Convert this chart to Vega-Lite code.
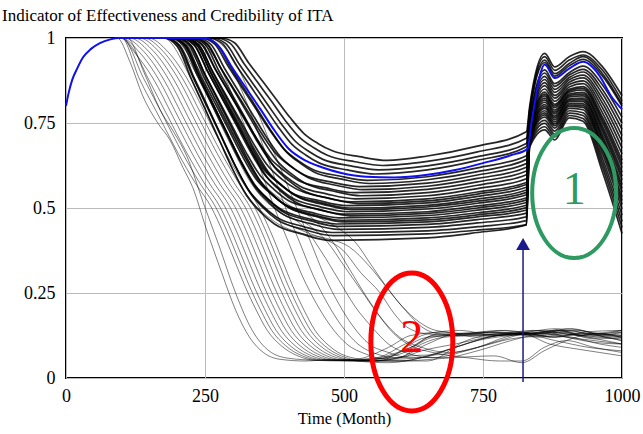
{
"$schema":"https://vega.github.io/schema/vega-lite/v6.json",
"width":556,"height":340,
"autosize":{"type":"none"},
"padding":{"left":66,"top":38,"right":21,"bottom":56},
"title":{"text":"Indicator of Effectiveness and Credibility of ITA","anchor":"start","frame":"group","dx":-64,"offset":4,"font":"Liberation Serif","fontSize":17,"fontWeight":"normal","color":"black"},
"config":{"font":"Liberation Serif","view":{"stroke":"black","strokeWidth":2},
"axis":{"labelFont":"Liberation Serif","labelFontSize":18,"labelColor":"black","titleFont":"Liberation Serif","titleFontSize":16.5,"titleFontWeight":"normal","titleColor":"black","gridColor":"#bbbbbb","gridWidth":1,"ticks":false,"domain":false,"labelFlush":false}},
"datasets":{
"bundle":[
{"s":"T1","t":85,"v":1},{"s":"T1","t":278,"v":1},{"s":"T1","t":303,"v":0.986},{"s":"T1","t":328,"v":0.928},{"s":"T1","t":353,"v":0.874},{"s":"T1","t":378,"v":0.82},{"s":"T1","t":403,"v":0.766},{"s":"T1","t":428,"v":0.719},{"s":"T1","t":453,"v":0.69},{"s":"T1","t":478,"v":0.669},{"s":"T1","t":528,"v":0.651},{"s":"T1","t":578,"v":0.64},{"s":"T1","t":650,"v":0.653},{"s":"T1","t":740,"v":0.682},{"s":"T1","t":828,"v":0.724},{"s":"T1","t":834,"v":0.8},{"s":"T1","t":861,"v":0.955},{"s":"T1","t":879,"v":0.915},{"s":"T1","t":905,"v":0.945},{"s":"T1","t":930,"v":0.96},{"s":"T1","t":965,"v":0.915},{"s":"T1","t":1000,"v":0.83},
{"s":"T2","t":85,"v":1},{"s":"T2","t":270,"v":1},{"s":"T2","t":295,"v":0.985},{"s":"T2","t":320,"v":0.925},{"s":"T2","t":345,"v":0.869},{"s":"T2","t":370,"v":0.813},{"s":"T2","t":395,"v":0.756},{"s":"T2","t":420,"v":0.708},{"s":"T2","t":445,"v":0.678},{"s":"T2","t":470,"v":0.655},{"s":"T2","t":520,"v":0.636},{"s":"T2","t":570,"v":0.625},{"s":"T2","t":650,"v":0.637},{"s":"T2","t":740,"v":0.665},{"s":"T2","t":828,"v":0.705},{"s":"T2","t":834,"v":0.79},{"s":"T2","t":861,"v":0.945},{"s":"T2","t":879,"v":0.905},{"s":"T2","t":905,"v":0.935},{"s":"T2","t":930,"v":0.95},{"s":"T2","t":965,"v":0.905},{"s":"T2","t":1000,"v":0.815},
{"s":"T3","t":85,"v":1},{"s":"T3","t":262,"v":1},{"s":"T3","t":287,"v":0.984},{"s":"T3","t":312,"v":0.922},{"s":"T3","t":337,"v":0.864},{"s":"T3","t":362,"v":0.806},{"s":"T3","t":387,"v":0.748},{"s":"T3","t":412,"v":0.697},{"s":"T3","t":437,"v":0.666},{"s":"T3","t":462,"v":0.643},{"s":"T3","t":512,"v":0.624},{"s":"T3","t":562,"v":0.612},{"s":"T3","t":650,"v":0.624},{"s":"T3","t":740,"v":0.651},{"s":"T3","t":828,"v":0.69},{"s":"T3","t":834,"v":0.785},{"s":"T3","t":861,"v":0.935},{"s":"T3","t":879,"v":0.895},{"s":"T3","t":905,"v":0.925},{"s":"T3","t":930,"v":0.945},{"s":"T3","t":965,"v":0.895},{"s":"T3","t":1000,"v":0.805},
{"s":"T4","t":85,"v":1},{"s":"T4","t":256,"v":1},{"s":"T4","t":281,"v":0.984},{"s":"T4","t":306,"v":0.92},{"s":"T4","t":331,"v":0.86},{"s":"T4","t":356,"v":0.8},{"s":"T4","t":381,"v":0.74},{"s":"T4","t":406,"v":0.688},{"s":"T4","t":431,"v":0.656},{"s":"T4","t":456,"v":0.632},{"s":"T4","t":506,"v":0.612},{"s":"T4","t":556,"v":0.6},{"s":"T4","t":650,"v":0.612},{"s":"T4","t":740,"v":0.64},{"s":"T4","t":828,"v":0.68},{"s":"T4","t":834,"v":0.775},{"s":"T4","t":861,"v":0.928},{"s":"T4","t":879,"v":0.888},{"s":"T4","t":905,"v":0.918},{"s":"T4","t":930,"v":0.937},{"s":"T4","t":965,"v":0.888},{"s":"T4","t":1000,"v":0.8},
{"s":"B1","t":85,"v":1},{"s":"B1","t":242,"v":1},{"s":"B1","t":267,"v":0.983},{"s":"B1","t":292,"v":0.916},{"s":"B1","t":317,"v":0.853},{"s":"B1","t":342,"v":0.79},{"s":"B1","t":367,"v":0.728},{"s":"B1","t":392,"v":0.673},{"s":"B1","t":417,"v":0.64},{"s":"B1","t":442,"v":0.615},{"s":"B1","t":492,"v":0.594},{"s":"B1","t":542,"v":0.581},{"s":"B1","t":650,"v":0.592},{"s":"B1","t":740,"v":0.618},{"s":"B1","t":828,"v":0.654},{"s":"B1","t":834,"v":0.756},{"s":"B1","t":861,"v":0.906},{"s":"B1","t":879,"v":0.866},{"s":"B1","t":905,"v":0.898},{"s":"B1","t":930,"v":0.917},{"s":"B1","t":965,"v":0.862},{"s":"B1","t":1000,"v":0.767},
{"s":"B2","t":85,"v":1},{"s":"B2","t":246,"v":1},{"s":"B2","t":271,"v":0.983},{"s":"B2","t":296,"v":0.914},{"s":"B2","t":321,"v":0.85},{"s":"B2","t":346,"v":0.786},{"s":"B2","t":371,"v":0.722},{"s":"B2","t":396,"v":0.666},{"s":"B2","t":421,"v":0.632},{"s":"B2","t":446,"v":0.606},{"s":"B2","t":496,"v":0.585},{"s":"B2","t":546,"v":0.572},{"s":"B2","t":650,"v":0.583},{"s":"B2","t":740,"v":0.607},{"s":"B2","t":828,"v":0.643},{"s":"B2","t":834,"v":0.752},{"s":"B2","t":861,"v":0.897},{"s":"B2","t":879,"v":0.858},{"s":"B2","t":905,"v":0.891},{"s":"B2","t":930,"v":0.908},{"s":"B2","t":965,"v":0.848},{"s":"B2","t":1000,"v":0.749},
{"s":"B3","t":85,"v":1},{"s":"B3","t":228,"v":1},{"s":"B3","t":253,"v":0.983},{"s":"B3","t":278,"v":0.913},{"s":"B3","t":303,"v":0.847},{"s":"B3","t":328,"v":0.782},{"s":"B3","t":353,"v":0.716},{"s":"B3","t":378,"v":0.659},{"s":"B3","t":403,"v":0.624},{"s":"B3","t":428,"v":0.598},{"s":"B3","t":478,"v":0.576},{"s":"B3","t":528,"v":0.563},{"s":"B3","t":650,"v":0.573},{"s":"B3","t":740,"v":0.597},{"s":"B3","t":828,"v":0.631},{"s":"B3","t":834,"v":0.748},{"s":"B3","t":861,"v":0.887},{"s":"B3","t":879,"v":0.849},{"s":"B3","t":905,"v":0.884},{"s":"B3","t":930,"v":0.9},{"s":"B3","t":965,"v":0.835},{"s":"B3","t":1000,"v":0.731},
{"s":"B4","t":85,"v":1},{"s":"B4","t":235,"v":1},{"s":"B4","t":260,"v":0.982},{"s":"B4","t":285,"v":0.911},{"s":"B4","t":310,"v":0.844},{"s":"B4","t":335,"v":0.777},{"s":"B4","t":360,"v":0.71},{"s":"B4","t":385,"v":0.652},{"s":"B4","t":410,"v":0.616},{"s":"B4","t":435,"v":0.59},{"s":"B4","t":485,"v":0.567},{"s":"B4","t":535,"v":0.554},{"s":"B4","t":650,"v":0.564},{"s":"B4","t":740,"v":0.587},{"s":"B4","t":828,"v":0.62},{"s":"B4","t":834,"v":0.744},{"s":"B4","t":861,"v":0.878},{"s":"B4","t":879,"v":0.84},{"s":"B4","t":905,"v":0.877},{"s":"B4","t":930,"v":0.891},{"s":"B4","t":965,"v":0.821},{"s":"B4","t":1000,"v":0.713},
{"s":"B5","t":85,"v":1},{"s":"B5","t":218,"v":1},{"s":"B5","t":243,"v":0.982},{"s":"B5","t":268,"v":0.909},{"s":"B5","t":293,"v":0.841},{"s":"B5","t":318,"v":0.773},{"s":"B5","t":343,"v":0.704},{"s":"B5","t":368,"v":0.645},{"s":"B5","t":393,"v":0.609},{"s":"B5","t":418,"v":0.581},{"s":"B5","t":468,"v":0.559},{"s":"B5","t":518,"v":0.545},{"s":"B5","t":650,"v":0.555},{"s":"B5","t":740,"v":0.577},{"s":"B5","t":828,"v":0.609},{"s":"B5","t":834,"v":0.74},{"s":"B5","t":861,"v":0.869},{"s":"B5","t":879,"v":0.831},{"s":"B5","t":905,"v":0.87},{"s":"B5","t":930,"v":0.883},{"s":"B5","t":965,"v":0.808},{"s":"B5","t":1000,"v":0.695},
{"s":"B6","t":85,"v":1},{"s":"B6","t":230,"v":1},{"s":"B6","t":255,"v":0.981},{"s":"B6","t":280,"v":0.907},{"s":"B6","t":305,"v":0.838},{"s":"B6","t":330,"v":0.768},{"s":"B6","t":355,"v":0.698},{"s":"B6","t":380,"v":0.638},{"s":"B6","t":405,"v":0.601},{"s":"B6","t":430,"v":0.573},{"s":"B6","t":480,"v":0.55},{"s":"B6","t":530,"v":0.536},{"s":"B6","t":650,"v":0.545},{"s":"B6","t":740,"v":0.567},{"s":"B6","t":828,"v":0.598},{"s":"B6","t":834,"v":0.736},{"s":"B6","t":861,"v":0.86},{"s":"B6","t":879,"v":0.823},{"s":"B6","t":905,"v":0.863},{"s":"B6","t":930,"v":0.874},{"s":"B6","t":965,"v":0.794},{"s":"B6","t":1000,"v":0.677},
{"s":"B7","t":85,"v":1},{"s":"B7","t":220,"v":1},{"s":"B7","t":245,"v":0.981},{"s":"B7","t":270,"v":0.905},{"s":"B7","t":295,"v":0.834},{"s":"B7","t":320,"v":0.764},{"s":"B7","t":345,"v":0.693},{"s":"B7","t":370,"v":0.631},{"s":"B7","t":395,"v":0.593},{"s":"B7","t":420,"v":0.565},{"s":"B7","t":470,"v":0.541},{"s":"B7","t":520,"v":0.527},{"s":"B7","t":650,"v":0.536},{"s":"B7","t":740,"v":0.557},{"s":"B7","t":828,"v":0.586},{"s":"B7","t":834,"v":0.732},{"s":"B7","t":861,"v":0.85},{"s":"B7","t":879,"v":0.814},{"s":"B7","t":905,"v":0.856},{"s":"B7","t":930,"v":0.866},{"s":"B7","t":965,"v":0.78},{"s":"B7","t":1000,"v":0.659},
{"s":"B8","t":85,"v":1},{"s":"B8","t":213,"v":1},{"s":"B8","t":238,"v":0.981},{"s":"B8","t":263,"v":0.904},{"s":"B8","t":288,"v":0.831},{"s":"B8","t":313,"v":0.759},{"s":"B8","t":338,"v":0.687},{"s":"B8","t":363,"v":0.624},{"s":"B8","t":388,"v":0.585},{"s":"B8","t":413,"v":0.557},{"s":"B8","t":463,"v":0.532},{"s":"B8","t":513,"v":0.518},{"s":"B8","t":650,"v":0.527},{"s":"B8","t":740,"v":0.547},{"s":"B8","t":828,"v":0.575},{"s":"B8","t":834,"v":0.728},{"s":"B8","t":861,"v":0.841},{"s":"B8","t":879,"v":0.805},{"s":"B8","t":905,"v":0.849},{"s":"B8","t":930,"v":0.857},{"s":"B8","t":965,"v":0.767},{"s":"B8","t":1000,"v":0.641},
{"s":"B9","t":85,"v":1},{"s":"B9","t":225,"v":1},{"s":"B9","t":250,"v":0.981},{"s":"B9","t":275,"v":0.903},{"s":"B9","t":300,"v":0.83},{"s":"B9","t":325,"v":0.757},{"s":"B9","t":350,"v":0.683},{"s":"B9","t":375,"v":0.62},{"s":"B9","t":400,"v":0.581},{"s":"B9","t":425,"v":0.552},{"s":"B9","t":475,"v":0.528},{"s":"B9","t":525,"v":0.513},{"s":"B9","t":650,"v":0.521},{"s":"B9","t":740,"v":0.541},{"s":"B9","t":828,"v":0.569},{"s":"B9","t":834,"v":0.726},{"s":"B9","t":861,"v":0.835},{"s":"B9","t":879,"v":0.8},{"s":"B9","t":905,"v":0.845},{"s":"B9","t":930,"v":0.852},{"s":"B9","t":965,"v":0.759},{"s":"B9","t":1000,"v":0.63},
{"s":"B10","t":85,"v":1},{"s":"B10","t":205,"v":1},{"s":"B10","t":230,"v":0.98},{"s":"B10","t":255,"v":0.901},{"s":"B10","t":280,"v":0.827},{"s":"B10","t":305,"v":0.754},{"s":"B10","t":330,"v":0.68},{"s":"B10","t":355,"v":0.615},{"s":"B10","t":380,"v":0.576},{"s":"B10","t":405,"v":0.546},{"s":"B10","t":455,"v":0.522},{"s":"B10","t":505,"v":0.507},{"s":"B10","t":650,"v":0.515},{"s":"B10","t":740,"v":0.534},{"s":"B10","t":828,"v":0.561},{"s":"B10","t":834,"v":0.723},{"s":"B10","t":861,"v":0.83},{"s":"B10","t":879,"v":0.795},{"s":"B10","t":905,"v":0.841},{"s":"B10","t":930,"v":0.847},{"s":"B10","t":965,"v":0.751},{"s":"B10","t":1000,"v":0.619},
{"s":"B11","t":85,"v":1},{"s":"B11","t":210,"v":1},{"s":"B11","t":235,"v":0.98},{"s":"B11","t":260,"v":0.9},{"s":"B11","t":285,"v":0.825},{"s":"B11","t":310,"v":0.75},{"s":"B11","t":335,"v":0.675},{"s":"B11","t":360,"v":0.61},{"s":"B11","t":385,"v":0.57},{"s":"B11","t":410,"v":0.54},{"s":"B11","t":460,"v":0.515},{"s":"B11","t":510,"v":0.5},{"s":"B11","t":650,"v":0.508},{"s":"B11","t":740,"v":0.526},{"s":"B11","t":828,"v":0.553},{"s":"B11","t":834,"v":0.72},{"s":"B11","t":861,"v":0.823},{"s":"B11","t":879,"v":0.788},{"s":"B11","t":905,"v":0.835},{"s":"B11","t":930,"v":0.84},{"s":"B11","t":965,"v":0.74},{"s":"B11","t":1000,"v":0.605},
{"s":"B12","t":85,"v":1},{"s":"B12","t":214,"v":1},{"s":"B12","t":239,"v":0.98},{"s":"B12","t":264,"v":0.899},{"s":"B12","t":289,"v":0.823},{"s":"B12","t":314,"v":0.748},{"s":"B12","t":339,"v":0.672},{"s":"B12","t":364,"v":0.606},{"s":"B12","t":389,"v":0.566},{"s":"B12","t":414,"v":0.535},{"s":"B12","t":464,"v":0.51},{"s":"B12","t":514,"v":0.495},{"s":"B12","t":650,"v":0.503},{"s":"B12","t":740,"v":0.52},{"s":"B12","t":828,"v":0.546},{"s":"B12","t":834,"v":0.718},{"s":"B12","t":861,"v":0.817},{"s":"B12","t":879,"v":0.782},{"s":"B12","t":905,"v":0.831},{"s":"B12","t":930,"v":0.835},{"s":"B12","t":965,"v":0.732},{"s":"B12","t":1000,"v":0.594},
{"s":"B13","t":85,"v":1},{"s":"B13","t":206,"v":1},{"s":"B13","t":231,"v":0.98},{"s":"B13","t":256,"v":0.898},{"s":"B13","t":281,"v":0.821},{"s":"B13","t":306,"v":0.745},{"s":"B13","t":331,"v":0.668},{"s":"B13","t":356,"v":0.601},{"s":"B13","t":381,"v":0.561},{"s":"B13","t":406,"v":0.53},{"s":"B13","t":456,"v":0.504},{"s":"B13","t":506,"v":0.489},{"s":"B13","t":650,"v":0.497},{"s":"B13","t":740,"v":0.514},{"s":"B13","t":828,"v":0.539},{"s":"B13","t":834,"v":0.715},{"s":"B13","t":861,"v":0.811},{"s":"B13","t":879,"v":0.777},{"s":"B13","t":905,"v":0.827},{"s":"B13","t":930,"v":0.83},{"s":"B13","t":965,"v":0.724},{"s":"B13","t":1000,"v":0.583},
{"s":"B14","t":85,"v":1},{"s":"B14","t":199,"v":1},{"s":"B14","t":224,"v":0.979},{"s":"B14","t":249,"v":0.896},{"s":"B14","t":274,"v":0.819},{"s":"B14","t":299,"v":0.741},{"s":"B14","t":324,"v":0.663},{"s":"B14","t":349,"v":0.596},{"s":"B14","t":374,"v":0.555},{"s":"B14","t":399,"v":0.523},{"s":"B14","t":449,"v":0.498},{"s":"B14","t":499,"v":0.482},{"s":"B14","t":650,"v":0.489},{"s":"B14","t":740,"v":0.506},{"s":"B14","t":828,"v":0.53},{"s":"B14","t":834,"v":0.712},{"s":"B14","t":861,"v":0.804},{"s":"B14","t":879,"v":0.77},{"s":"B14","t":905,"v":0.821},{"s":"B14","t":930,"v":0.823},{"s":"B14","t":965,"v":0.713},{"s":"B14","t":1000,"v":0.569},
{"s":"B15","t":85,"v":1},{"s":"B15","t":211,"v":1},{"s":"B15","t":236,"v":0.979},{"s":"B15","t":261,"v":0.895},{"s":"B15","t":286,"v":0.817},{"s":"B15","t":311,"v":0.739},{"s":"B15","t":336,"v":0.66},{"s":"B15","t":361,"v":0.592},{"s":"B15","t":386,"v":0.55},{"s":"B15","t":411,"v":0.519},{"s":"B15","t":461,"v":0.493},{"s":"B15","t":511,"v":0.477},{"s":"B15","t":650,"v":0.484},{"s":"B15","t":740,"v":0.5},{"s":"B15","t":828,"v":0.524},{"s":"B15","t":834,"v":0.71},{"s":"B15","t":861,"v":0.798},{"s":"B15","t":879,"v":0.765},{"s":"B15","t":905,"v":0.817},{"s":"B15","t":930,"v":0.818},{"s":"B15","t":965,"v":0.705},{"s":"B15","t":1000,"v":0.558},
{"s":"B16","t":85,"v":1},{"s":"B16","t":191,"v":1},{"s":"B16","t":216,"v":0.979},{"s":"B16","t":241,"v":0.894},{"s":"B16","t":266,"v":0.815},{"s":"B16","t":291,"v":0.736},{"s":"B16","t":316,"v":0.656},{"s":"B16","t":341,"v":0.587},{"s":"B16","t":366,"v":0.545},{"s":"B16","t":391,"v":0.513},{"s":"B16","t":441,"v":0.487},{"s":"B16","t":491,"v":0.471},{"s":"B16","t":650,"v":0.478},{"s":"B16","t":740,"v":0.494},{"s":"B16","t":828,"v":0.516},{"s":"B16","t":834,"v":0.707},{"s":"B16","t":861,"v":0.793},{"s":"B16","t":879,"v":0.759},{"s":"B16","t":905,"v":0.813},{"s":"B16","t":930,"v":0.813},{"s":"B16","t":965,"v":0.697},{"s":"B16","t":1000,"v":0.547},
{"s":"B17","t":85,"v":1},{"s":"B17","t":196,"v":1},{"s":"B17","t":221,"v":0.979},{"s":"B17","t":246,"v":0.893},{"s":"B17","t":271,"v":0.812},{"s":"B17","t":296,"v":0.732},{"s":"B17","t":321,"v":0.652},{"s":"B17","t":346,"v":0.582},{"s":"B17","t":371,"v":0.539},{"s":"B17","t":396,"v":0.507},{"s":"B17","t":446,"v":0.48},{"s":"B17","t":496,"v":0.464},{"s":"B17","t":650,"v":0.471},{"s":"B17","t":740,"v":0.486},{"s":"B17","t":828,"v":0.508},{"s":"B17","t":834,"v":0.704},{"s":"B17","t":861,"v":0.786},{"s":"B17","t":879,"v":0.753},{"s":"B17","t":905,"v":0.807},{"s":"B17","t":930,"v":0.806},{"s":"B17","t":965,"v":0.686},{"s":"B17","t":1000,"v":0.533},
{"s":"B18","t":85,"v":1},{"s":"B18","t":200,"v":1},{"s":"B18","t":225,"v":0.978},{"s":"B18","t":250,"v":0.892},{"s":"B18","t":275,"v":0.811},{"s":"B18","t":300,"v":0.73},{"s":"B18","t":325,"v":0.648},{"s":"B18","t":350,"v":0.578},{"s":"B18","t":375,"v":0.535},{"s":"B18","t":400,"v":0.502},{"s":"B18","t":450,"v":0.475},{"s":"B18","t":500,"v":0.459},{"s":"B18","t":650,"v":0.465},{"s":"B18","t":740,"v":0.48},{"s":"B18","t":828,"v":0.501},{"s":"B18","t":834,"v":0.702},{"s":"B18","t":861,"v":0.78},{"s":"B18","t":879,"v":0.747},{"s":"B18","t":905,"v":0.803},{"s":"B18","t":930,"v":0.801},{"s":"B18","t":965,"v":0.678},{"s":"B18","t":1000,"v":0.522},
{"s":"B19","t":85,"v":1},{"s":"B19","t":186,"v":1},{"s":"B19","t":211,"v":0.978},{"s":"B19","t":236,"v":0.891},{"s":"B19","t":261,"v":0.809},{"s":"B19","t":286,"v":0.727},{"s":"B19","t":311,"v":0.644},{"s":"B19","t":336,"v":0.573},{"s":"B19","t":361,"v":0.53},{"s":"B19","t":386,"v":0.497},{"s":"B19","t":436,"v":0.469},{"s":"B19","t":486,"v":0.453},{"s":"B19","t":650,"v":0.459},{"s":"B19","t":740,"v":0.474},{"s":"B19","t":828,"v":0.494},{"s":"B19","t":834,"v":0.699},{"s":"B19","t":861,"v":0.774},{"s":"B19","t":879,"v":0.742},{"s":"B19","t":905,"v":0.799},{"s":"B19","t":930,"v":0.796},{"s":"B19","t":965,"v":0.67},{"s":"B19","t":1000,"v":0.511},
{"s":"B20","t":85,"v":1},{"s":"B20","t":189,"v":1},{"s":"B20","t":214,"v":0.978},{"s":"B20","t":239,"v":0.889},{"s":"B20","t":264,"v":0.806},{"s":"B20","t":289,"v":0.723},{"s":"B20","t":314,"v":0.64},{"s":"B20","t":339,"v":0.568},{"s":"B20","t":364,"v":0.524},{"s":"B20","t":389,"v":0.49},{"s":"B20","t":439,"v":0.463},{"s":"B20","t":489,"v":0.446},{"s":"B20","t":650,"v":0.452},{"s":"B20","t":740,"v":0.466},{"s":"B20","t":828,"v":0.485},{"s":"B20","t":834,"v":0.696},{"s":"B20","t":861,"v":0.767},{"s":"B20","t":879,"v":0.735},{"s":"B20","t":905,"v":0.793},{"s":"B20","t":930,"v":0.789},{"s":"B20","t":965,"v":0.659},{"s":"B20","t":1000,"v":0.497},
{"s":"B21","t":85,"v":1},{"s":"B21","t":190,"v":1},{"s":"B21","t":215,"v":0.977},{"s":"B21","t":240,"v":0.887},{"s":"B21","t":265,"v":0.803},{"s":"B21","t":290,"v":0.719},{"s":"B21","t":315,"v":0.634},{"s":"B21","t":340,"v":0.561},{"s":"B21","t":365,"v":0.516},{"s":"B21","t":390,"v":0.482},{"s":"B21","t":440,"v":0.454},{"s":"B21","t":490,"v":0.437},{"s":"B21","t":650,"v":0.443},{"s":"B21","t":740,"v":0.456},{"s":"B21","t":828,"v":0.474},{"s":"B21","t":834,"v":0.692},{"s":"B21","t":861,"v":0.758},{"s":"B21","t":879,"v":0.726},{"s":"B21","t":905,"v":0.786},{"s":"B21","t":930,"v":0.78},{"s":"B21","t":965,"v":0.645},{"s":"B21","t":1000,"v":0.479},
{"s":"B22","t":85,"v":1},{"s":"B22","t":178,"v":1},{"s":"B22","t":203,"v":0.977},{"s":"B22","t":228,"v":0.886},{"s":"B22","t":253,"v":0.8},{"s":"B22","t":278,"v":0.714},{"s":"B22","t":303,"v":0.628},{"s":"B22","t":328,"v":0.554},{"s":"B22","t":353,"v":0.508},{"s":"B22","t":378,"v":0.474},{"s":"B22","t":428,"v":0.445},{"s":"B22","t":478,"v":0.428},{"s":"B22","t":650,"v":0.433},{"s":"B22","t":740,"v":0.445},{"s":"B22","t":828,"v":0.463},{"s":"B22","t":834,"v":0.688},{"s":"B22","t":861,"v":0.749},{"s":"B22","t":879,"v":0.717},{"s":"B22","t":905,"v":0.779},{"s":"B22","t":930,"v":0.772},{"s":"B22","t":965,"v":0.632},{"s":"B22","t":1000,"v":0.461},
{"s":"B23","t":85,"v":1},{"s":"B23","t":180,"v":1},{"s":"B23","t":205,"v":0.977},{"s":"B23","t":230,"v":0.884},{"s":"B23","t":255,"v":0.797},{"s":"B23","t":280,"v":0.71},{"s":"B23","t":305,"v":0.622},{"s":"B23","t":330,"v":0.547},{"s":"B23","t":355,"v":0.5},{"s":"B23","t":380,"v":0.465},{"s":"B23","t":430,"v":0.436},{"s":"B23","t":480,"v":0.419},{"s":"B23","t":650,"v":0.424},{"s":"B23","t":740,"v":0.435},{"s":"B23","t":828,"v":0.451},{"s":"B23","t":834,"v":0.684},{"s":"B23","t":861,"v":0.739},{"s":"B23","t":879,"v":0.709},{"s":"B23","t":905,"v":0.772},{"s":"B23","t":930,"v":0.763},{"s":"B23","t":965,"v":0.619},{"s":"B23","t":1000,"v":0.443},
{"s":"B24","t":85,"v":1},{"s":"B24","t":175,"v":1},{"s":"B24","t":200,"v":0.976},{"s":"B24","t":225,"v":0.881},{"s":"B24","t":250,"v":0.792},{"s":"B24","t":275,"v":0.703},{"s":"B24","t":300,"v":0.613},{"s":"B24","t":325,"v":0.536},{"s":"B24","t":350,"v":0.488},{"s":"B24","t":375,"v":0.453},{"s":"B24","t":425,"v":0.423},{"s":"B24","t":475,"v":0.405},{"s":"B24","t":650,"v":0.412},{"s":"B24","t":740,"v":0.428},{"s":"B24","t":828,"v":0.45},{"s":"B24","t":834,"v":0.68},{"s":"B24","t":861,"v":0.73},{"s":"B24","t":879,"v":0.7},{"s":"B24","t":905,"v":0.765},{"s":"B24","t":930,"v":0.755},{"s":"B24","t":965,"v":0.605},{"s":"B24","t":1000,"v":0.425}
],
"collapse":[
{"s":"C1","t":85,"v":1},{"s":"C1","t":92,"v":1},{"s":"C1","t":115,"v":0.93},{"s":"C1","t":138,"v":0.83},{"s":"C1","t":165,"v":0.75},{"s":"C1","t":187,"v":0.7},{"s":"C1","t":210,"v":0.62},{"s":"C1","t":228,"v":0.56},{"s":"C1","t":252,"v":0.44},{"s":"C1","t":280,"v":0.31},{"s":"C1","t":305,"v":0.2},{"s":"C1","t":330,"v":0.12},{"s":"C1","t":355,"v":0.075},{"s":"C1","t":385,"v":0.055},{"s":"C1","t":430,"v":0.05},{"s":"C1","t":480,"v":0.055},{"s":"C1","t":540,"v":0.05},{"s":"C1","t":600,"v":0.06},{"s":"C1","t":640,"v":0.1},{"s":"C1","t":680,"v":0.12},{"s":"C1","t":740,"v":0.125},{"s":"C1","t":800,"v":0.13},{"s":"C1","t":850,"v":0.12},{"s":"C1","t":900,"v":0.13},{"s":"C1","t":950,"v":0.115},{"s":"C1","t":1000,"v":0.12},
{"s":"C2","t":85,"v":1},{"s":"C2","t":110,"v":1},{"s":"C2","t":140,"v":0.9},{"s":"C2","t":169,"v":0.79},{"s":"C2","t":195,"v":0.72},{"s":"C2","t":218,"v":0.65},{"s":"C2","t":247,"v":0.515},{"s":"C2","t":275,"v":0.39},{"s":"C2","t":305,"v":0.25},{"s":"C2","t":335,"v":0.14},{"s":"C2","t":365,"v":0.08},{"s":"C2","t":400,"v":0.058},{"s":"C2","t":450,"v":0.052},{"s":"C2","t":500,"v":0.05},{"s":"C2","t":560,"v":0.055},{"s":"C2","t":620,"v":0.09},{"s":"C2","t":660,"v":0.125},{"s":"C2","t":720,"v":0.13},{"s":"C2","t":780,"v":0.135},{"s":"C2","t":840,"v":0.125},{"s":"C2","t":890,"v":0.135},{"s":"C2","t":940,"v":0.12},{"s":"C2","t":1000,"v":0.1},
{"s":"E1","t":85,"v":1},{"s":"E1","t":100,"v":1},{"s":"E1","t":132,"v":0.88},{"s":"E1","t":167,"v":0.77},{"s":"E1","t":202,"v":0.66},{"s":"E1","t":232,"v":0.575},{"s":"E1","t":262,"v":0.5},{"s":"E1","t":282,"v":0.43},{"s":"E1","t":302,"v":0.35},{"s":"E1","t":322,"v":0.27},{"s":"E1","t":342,"v":0.2},{"s":"E1","t":362,"v":0.14},{"s":"E1","t":387,"v":0.095},{"s":"E1","t":417,"v":0.065},{"s":"E1","t":452,"v":0.052},{"s":"E1","t":600,"v":0.06},{"s":"E1","t":640,"v":0.08},{"s":"E1","t":700,"v":0.1},{"s":"E1","t":760,"v":0.12},{"s":"E1","t":820,"v":0.13},{"s":"E1","t":870,"v":0.1},{"s":"E1","t":920,"v":0.085},{"s":"E1","t":960,"v":0.075},{"s":"E1","t":1000,"v":0.065},
{"s":"E2","t":85,"v":1},{"s":"E2","t":100,"v":1},{"s":"E2","t":140,"v":0.88},{"s":"E2","t":175,"v":0.77},{"s":"E2","t":210,"v":0.66},{"s":"E2","t":240,"v":0.575},{"s":"E2","t":270,"v":0.5},{"s":"E2","t":290,"v":0.43},{"s":"E2","t":310,"v":0.35},{"s":"E2","t":330,"v":0.27},{"s":"E2","t":350,"v":0.2},{"s":"E2","t":370,"v":0.14},{"s":"E2","t":395,"v":0.095},{"s":"E2","t":425,"v":0.065},{"s":"E2","t":460,"v":0.052},{"s":"E2","t":520,"v":0.055},{"s":"E2","t":580,"v":0.09},{"s":"E2","t":620,"v":0.125},{"s":"E2","t":680,"v":0.135},{"s":"E2","t":740,"v":0.12},{"s":"E2","t":800,"v":0.13},{"s":"E2","t":850,"v":0.14},{"s":"E2","t":900,"v":0.12},{"s":"E2","t":950,"v":0.105},{"s":"E2","t":1000,"v":0.1},
{"s":"E3","t":85,"v":1},{"s":"E3","t":100,"v":1},{"s":"E3","t":120,"v":0.97},{"s":"E3","t":148,"v":0.88},{"s":"E3","t":183,"v":0.77},{"s":"E3","t":218,"v":0.66},{"s":"E3","t":248,"v":0.575},{"s":"E3","t":278,"v":0.5},{"s":"E3","t":298,"v":0.43},{"s":"E3","t":318,"v":0.35},{"s":"E3","t":338,"v":0.27},{"s":"E3","t":358,"v":0.2},{"s":"E3","t":378,"v":0.14},{"s":"E3","t":403,"v":0.095},{"s":"E3","t":433,"v":0.065},{"s":"E3","t":468,"v":0.052},{"s":"E3","t":600,"v":0.05},{"s":"E3","t":700,"v":0.06},{"s":"E3","t":770,"v":0.065},{"s":"E3","t":820,"v":0.045},{"s":"E3","t":860,"v":0.08},{"s":"E3","t":900,"v":0.11},{"s":"E3","t":950,"v":0.13},{"s":"E3","t":1000,"v":0.12},
{"s":"E4","t":85,"v":1},{"s":"E4","t":100,"v":1},{"s":"E4","t":122,"v":0.96},{"s":"E4","t":157,"v":0.88},{"s":"E4","t":192,"v":0.77},{"s":"E4","t":227,"v":0.66},{"s":"E4","t":257,"v":0.575},{"s":"E4","t":287,"v":0.5},{"s":"E4","t":307,"v":0.43},{"s":"E4","t":327,"v":0.35},{"s":"E4","t":347,"v":0.27},{"s":"E4","t":367,"v":0.2},{"s":"E4","t":387,"v":0.14},{"s":"E4","t":412,"v":0.095},{"s":"E4","t":442,"v":0.065},{"s":"E4","t":477,"v":0.052},{"s":"E4","t":560,"v":0.05},{"s":"E4","t":650,"v":0.12},{"s":"E4","t":700,"v":0.125},{"s":"E4","t":760,"v":0.13},{"s":"E4","t":820,"v":0.128},{"s":"E4","t":870,"v":0.135},{"s":"E4","t":920,"v":0.125},{"s":"E4","t":960,"v":0.13},{"s":"E4","t":1000,"v":0.12},
{"s":"E5","t":85,"v":1},{"s":"E5","t":100,"v":1},{"s":"E5","t":131,"v":0.96},{"s":"E5","t":166,"v":0.88},{"s":"E5","t":201,"v":0.77},{"s":"E5","t":236,"v":0.66},{"s":"E5","t":266,"v":0.575},{"s":"E5","t":296,"v":0.5},{"s":"E5","t":316,"v":0.43},{"s":"E5","t":336,"v":0.35},{"s":"E5","t":356,"v":0.27},{"s":"E5","t":376,"v":0.2},{"s":"E5","t":396,"v":0.14},{"s":"E5","t":421,"v":0.095},{"s":"E5","t":451,"v":0.065},{"s":"E5","t":486,"v":0.052},{"s":"E5","t":560,"v":0.05},{"s":"E5","t":620,"v":0.065},{"s":"E5","t":680,"v":0.07},{"s":"E5","t":740,"v":0.09},{"s":"E5","t":800,"v":0.115},{"s":"E5","t":860,"v":0.125},{"s":"E5","t":920,"v":0.14},{"s":"E5","t":970,"v":0.12},{"s":"E5","t":1000,"v":0.11},
{"s":"E6","t":85,"v":1},{"s":"E6","t":105,"v":1},{"s":"E6","t":140,"v":0.96},{"s":"E6","t":175,"v":0.88},{"s":"E6","t":210,"v":0.77},{"s":"E6","t":245,"v":0.66},{"s":"E6","t":275,"v":0.575},{"s":"E6","t":305,"v":0.5},{"s":"E6","t":325,"v":0.43},{"s":"E6","t":345,"v":0.35},{"s":"E6","t":365,"v":0.27},{"s":"E6","t":385,"v":0.2},{"s":"E6","t":405,"v":0.14},{"s":"E6","t":430,"v":0.095},{"s":"E6","t":460,"v":0.065},{"s":"E6","t":495,"v":0.052},{"s":"E6","t":650,"v":0.05},{"s":"E6","t":720,"v":0.11},{"s":"E6","t":780,"v":0.13},{"s":"E6","t":830,"v":0.13},{"s":"E6","t":880,"v":0.12},{"s":"E6","t":930,"v":0.135},{"s":"E6","t":1000,"v":0.14},
{"s":"E7","t":85,"v":1},{"s":"E7","t":114,"v":1},{"s":"E7","t":149,"v":0.96},{"s":"E7","t":184,"v":0.88},{"s":"E7","t":219,"v":0.77},{"s":"E7","t":254,"v":0.66},{"s":"E7","t":284,"v":0.575},{"s":"E7","t":314,"v":0.5},{"s":"E7","t":334,"v":0.43},{"s":"E7","t":354,"v":0.35},{"s":"E7","t":374,"v":0.27},{"s":"E7","t":394,"v":0.2},{"s":"E7","t":414,"v":0.14},{"s":"E7","t":439,"v":0.095},{"s":"E7","t":469,"v":0.065},{"s":"E7","t":504,"v":0.052},{"s":"E7","t":560,"v":0.06},{"s":"E7","t":610,"v":0.1},{"s":"E7","t":650,"v":0.13},{"s":"E7","t":710,"v":0.14},{"s":"E7","t":770,"v":0.125},{"s":"E7","t":830,"v":0.135},{"s":"E7","t":880,"v":0.145},{"s":"E7","t":930,"v":0.125},{"s":"E7","t":1000,"v":0.13},
{"s":"E8","t":85,"v":1},{"s":"E8","t":123,"v":1},{"s":"E8","t":158,"v":0.96},{"s":"E8","t":193,"v":0.88},{"s":"E8","t":228,"v":0.77},{"s":"E8","t":263,"v":0.66},{"s":"E8","t":293,"v":0.575},{"s":"E8","t":323,"v":0.5},{"s":"E8","t":343,"v":0.43},{"s":"E8","t":363,"v":0.35},{"s":"E8","t":383,"v":0.27},{"s":"E8","t":403,"v":0.2},{"s":"E8","t":423,"v":0.14},{"s":"E8","t":448,"v":0.095},{"s":"E8","t":478,"v":0.065},{"s":"E8","t":513,"v":0.052},{"s":"E8","t":580,"v":0.045},{"s":"E8","t":640,"v":0.06},{"s":"E8","t":700,"v":0.09},{"s":"E8","t":760,"v":0.12},{"s":"E8","t":820,"v":0.13},{"s":"E8","t":880,"v":0.11},{"s":"E8","t":940,"v":0.09},{"s":"E8","t":1000,"v":0.08},
{"s":"E9","t":85,"v":1},{"s":"E9","t":132,"v":1},{"s":"E9","t":167,"v":0.96},{"s":"E9","t":202,"v":0.88},{"s":"E9","t":237,"v":0.77},{"s":"E9","t":272,"v":0.66},{"s":"E9","t":302,"v":0.575},{"s":"E9","t":332,"v":0.5},{"s":"E9","t":352,"v":0.43},{"s":"E9","t":372,"v":0.35},{"s":"E9","t":392,"v":0.27},{"s":"E9","t":412,"v":0.2},{"s":"E9","t":432,"v":0.14},{"s":"E9","t":457,"v":0.095},{"s":"E9","t":487,"v":0.065},{"s":"E9","t":522,"v":0.052},{"s":"E9","t":600,"v":0.07},{"s":"E9","t":660,"v":0.12},{"s":"E9","t":720,"v":0.13},{"s":"E9","t":780,"v":0.14},{"s":"E9","t":840,"v":0.13},{"s":"E9","t":900,"v":0.14},{"s":"E9","t":960,"v":0.125},{"s":"E9","t":1000,"v":0.135},
{"s":"E10","t":85,"v":1},{"s":"E10","t":140,"v":1},{"s":"E10","t":175,"v":0.96},{"s":"E10","t":210,"v":0.88},{"s":"E10","t":245,"v":0.77},{"s":"E10","t":280,"v":0.66},{"s":"E10","t":310,"v":0.575},{"s":"E10","t":340,"v":0.5},{"s":"E10","t":360,"v":0.43},{"s":"E10","t":380,"v":0.35},{"s":"E10","t":400,"v":0.27},{"s":"E10","t":420,"v":0.2},{"s":"E10","t":440,"v":0.14},{"s":"E10","t":465,"v":0.095},{"s":"E10","t":495,"v":0.065},{"s":"E10","t":530,"v":0.052},{"s":"E10","t":600,"v":0.05},{"s":"E10","t":680,"v":0.08},{"s":"E10","t":740,"v":0.11},{"s":"E10","t":800,"v":0.125},{"s":"E10","t":860,"v":0.13},{"s":"E10","t":910,"v":0.12},{"s":"E10","t":960,"v":0.1},{"s":"E10","t":1000,"v":0.09},
{"s":"E11","t":85,"v":1},{"s":"E11","t":148,"v":1},{"s":"E11","t":183,"v":0.96},{"s":"E11","t":218,"v":0.88},{"s":"E11","t":253,"v":0.77},{"s":"E11","t":288,"v":0.66},{"s":"E11","t":318,"v":0.575},{"s":"E11","t":348,"v":0.5},{"s":"E11","t":368,"v":0.43},{"s":"E11","t":388,"v":0.35},{"s":"E11","t":408,"v":0.27},{"s":"E11","t":428,"v":0.2},{"s":"E11","t":448,"v":0.14},{"s":"E11","t":473,"v":0.095},{"s":"E11","t":503,"v":0.065},{"s":"E11","t":538,"v":0.055},{"s":"E11","t":620,"v":0.09},{"s":"E11","t":670,"v":0.13},{"s":"E11","t":730,"v":0.13},{"s":"E11","t":790,"v":0.14},{"s":"E11","t":850,"v":0.13},{"s":"E11","t":910,"v":0.145},{"s":"E11","t":960,"v":0.13},{"s":"E11","t":1000,"v":0.14},
{"s":"M1","t":85,"v":1},{"s":"M1","t":225,"v":1},{"s":"M1","t":265,"v":0.95},{"s":"M1","t":300,"v":0.83},{"s":"M1","t":335,"v":0.68},{"s":"M1","t":355,"v":0.59},{"s":"M1","t":375,"v":0.5},{"s":"M1","t":400,"v":0.4},{"s":"M1","t":425,"v":0.3},{"s":"M1","t":450,"v":0.22},{"s":"M1","t":475,"v":0.155},{"s":"M1","t":505,"v":0.1},{"s":"M1","t":540,"v":0.07},{"s":"M1","t":575,"v":0.055},{"s":"M1","t":640,"v":0.06},{"s":"M1","t":700,"v":0.09},{"s":"M1","t":760,"v":0.12},{"s":"M1","t":820,"v":0.135},{"s":"M1","t":870,"v":0.12},{"s":"M1","t":920,"v":0.13},{"s":"M1","t":1000,"v":0.11},
{"s":"M2","t":85,"v":1},{"s":"M2","t":245,"v":1},{"s":"M2","t":285,"v":0.95},{"s":"M2","t":320,"v":0.83},{"s":"M2","t":355,"v":0.68},{"s":"M2","t":375,"v":0.59},{"s":"M2","t":395,"v":0.5},{"s":"M2","t":420,"v":0.4},{"s":"M2","t":445,"v":0.3},{"s":"M2","t":470,"v":0.22},{"s":"M2","t":495,"v":0.155},{"s":"M2","t":525,"v":0.1},{"s":"M2","t":560,"v":0.07},{"s":"M2","t":595,"v":0.06},{"s":"M2","t":650,"v":0.1},{"s":"M2","t":700,"v":0.13},{"s":"M2","t":760,"v":0.135},{"s":"M2","t":820,"v":0.13},{"s":"M2","t":880,"v":0.14},{"s":"M2","t":940,"v":0.12},{"s":"M2","t":1000,"v":0.125},
{"s":"M3","t":85,"v":1},{"s":"M3","t":255,"v":1},{"s":"M3","t":300,"v":0.94},{"s":"M3","t":340,"v":0.8},{"s":"M3","t":375,"v":0.66},{"s":"M3","t":395,"v":0.58},{"s":"M3","t":415,"v":0.5},{"s":"M3","t":440,"v":0.4},{"s":"M3","t":465,"v":0.3},{"s":"M3","t":490,"v":0.22},{"s":"M3","t":515,"v":0.155},{"s":"M3","t":545,"v":0.1},{"s":"M3","t":580,"v":0.075},{"s":"M3","t":615,"v":0.06},{"s":"M3","t":680,"v":0.06},{"s":"M3","t":740,"v":0.08},{"s":"M3","t":800,"v":0.11},{"s":"M3","t":850,"v":0.13},{"s":"M3","t":900,"v":0.14},{"s":"M3","t":950,"v":0.13},{"s":"M3","t":1000,"v":0.135},
{"s":"L1","t":85,"v":1},{"s":"L1","t":190,"v":1},{"s":"L1","t":240,"v":0.89},{"s":"L1","t":290,"v":0.72},{"s":"L1","t":340,"v":0.57},{"s":"L1","t":390,"v":0.49},{"s":"L1","t":430,"v":0.44},{"s":"L1","t":460,"v":0.37},{"s":"L1","t":490,"v":0.29},{"s":"L1","t":520,"v":0.21},{"s":"L1","t":550,"v":0.15},{"s":"L1","t":580,"v":0.1},{"s":"L1","t":620,"v":0.07},{"s":"L1","t":660,"v":0.06},{"s":"L1","t":720,"v":0.08},{"s":"L1","t":780,"v":0.11},{"s":"L1","t":830,"v":0.13},{"s":"L1","t":880,"v":0.12},{"s":"L1","t":930,"v":0.13},{"s":"L1","t":1000,"v":0.12},
{"s":"L2","t":85,"v":1},{"s":"L2","t":195,"v":1},{"s":"L2","t":245,"v":0.89},{"s":"L2","t":295,"v":0.73},{"s":"L2","t":345,"v":0.59},{"s":"L2","t":400,"v":0.51},{"s":"L2","t":450,"v":0.46},{"s":"L2","t":480,"v":0.4},{"s":"L2","t":510,"v":0.32},{"s":"L2","t":540,"v":0.24},{"s":"L2","t":570,"v":0.17},{"s":"L2","t":600,"v":0.12},{"s":"L2","t":640,"v":0.09},{"s":"L2","t":690,"v":0.075},{"s":"L2","t":740,"v":0.09},{"s":"L2","t":790,"v":0.12},{"s":"L2","t":840,"v":0.135},{"s":"L2","t":900,"v":0.12},{"s":"L2","t":950,"v":0.11},{"s":"L2","t":1000,"v":0.1},
{"s":"L3","t":85,"v":1},{"s":"L3","t":180,"v":1},{"s":"L3","t":230,"v":0.885},{"s":"L3","t":280,"v":0.71},{"s":"L3","t":330,"v":0.55},{"s":"L3","t":380,"v":0.47},{"s":"L3","t":430,"v":0.43},{"s":"L3","t":470,"v":0.405},{"s":"L3","t":498,"v":0.376},{"s":"L3","t":530,"v":0.31},{"s":"L3","t":565,"v":0.25},{"s":"L3","t":590,"v":0.19},{"s":"L3","t":613,"v":0.15},{"s":"L3","t":649,"v":0.13},{"s":"L3","t":700,"v":0.125},{"s":"L3","t":760,"v":0.135},{"s":"L3","t":820,"v":0.13},{"s":"L3","t":880,"v":0.14},{"s":"L3","t":930,"v":0.13},{"s":"L3","t":1000,"v":0.14},
{"s":"L4","t":85,"v":1},{"s":"L4","t":200,"v":1},{"s":"L4","t":250,"v":0.89},{"s":"L4","t":300,"v":0.73},{"s":"L4","t":350,"v":0.58},{"s":"L4","t":400,"v":0.5},{"s":"L4","t":450,"v":0.475},{"s":"L4","t":490,"v":0.44},{"s":"L4","t":520,"v":0.4},{"s":"L4","t":550,"v":0.33},{"s":"L4","t":580,"v":0.26},{"s":"L4","t":610,"v":0.2},{"s":"L4","t":640,"v":0.15},{"s":"L4","t":670,"v":0.13},{"s":"L4","t":720,"v":0.125},{"s":"L4","t":780,"v":0.13},{"s":"L4","t":840,"v":0.14},{"s":"L4","t":900,"v":0.13},{"s":"L4","t":960,"v":0.12},{"s":"L4","t":1000,"v":0.115},
{"s":"L5","t":85,"v":1},{"s":"L5","t":175,"v":1},{"s":"L5","t":225,"v":0.88},{"s":"L5","t":275,"v":0.7},{"s":"L5","t":325,"v":0.54},{"s":"L5","t":375,"v":0.46},{"s":"L5","t":425,"v":0.425},{"s":"L5","t":470,"v":0.41},{"s":"L5","t":510,"v":0.385},{"s":"L5","t":545,"v":0.33},{"s":"L5","t":575,"v":0.27},{"s":"L5","t":605,"v":0.21},{"s":"L5","t":635,"v":0.165},{"s":"L5","t":665,"v":0.14},{"s":"L5","t":720,"v":0.13},{"s":"L5","t":780,"v":0.125},{"s":"L5","t":840,"v":0.13},{"s":"L5","t":900,"v":0.145},{"s":"L5","t":960,"v":0.13},{"s":"L5","t":1000,"v":0.125},
{"s":"L6","t":85,"v":1},{"s":"L6","t":186,"v":1},{"s":"L6","t":236,"v":0.89},{"s":"L6","t":286,"v":0.72},{"s":"L6","t":336,"v":0.565},{"s":"L6","t":386,"v":0.485},{"s":"L6","t":436,"v":0.45},{"s":"L6","t":470,"v":0.4},{"s":"L6","t":500,"v":0.33},{"s":"L6","t":530,"v":0.26},{"s":"L6","t":560,"v":0.19},{"s":"L6","t":590,"v":0.13},{"s":"L6","t":620,"v":0.095},{"s":"L6","t":660,"v":0.075},{"s":"L6","t":720,"v":0.06},{"s":"L6","t":780,"v":0.05},{"s":"L6","t":820,"v":0.05},{"s":"L6","t":860,"v":0.09},{"s":"L6","t":900,"v":0.11},{"s":"L6","t":950,"v":0.09},{"s":"L6","t":1000,"v":0.075}
],
"blue":[
{"t":0,"v":0.8},{"t":5,"v":0.84},{"t":11,"v":0.876},{"t":20,"v":0.91},{"t":31,"v":0.944},{"t":45,"v":0.968},{"t":61,"v":0.985},{"t":80,"v":0.996},{"t":95,"v":1},{"t":250,"v":1},{"t":275,"v":0.975},{"t":300,"v":0.91},{"t":325,"v":0.85},{"t":350,"v":0.79},{"t":372,"v":0.735},{"t":400,"v":0.675},{"t":430,"v":0.64},{"t":460,"v":0.62},{"t":495,"v":0.603},{"t":540,"v":0.592},{"t":590,"v":0.59},{"t":650,"v":0.598},{"t":700,"v":0.612},{"t":750,"v":0.632},{"t":800,"v":0.655},{"t":830,"v":0.674},{"t":838,"v":0.76},{"t":861,"v":0.922},{"t":879,"v":0.882},{"t":905,"v":0.91},{"t":930,"v":0.93},{"t":960,"v":0.888},{"t":980,"v":0.83},{"t":1000,"v":0.79}
]},
"encoding":{
"x":{"field":"t","type":"quantitative","scale":{"domain":[0,1000],"nice":false},"axis":{"values":[0,250,500,750,1000],"format":"d","title":"Time (Month)","labelPadding":9,"titlePadding":5,"labelFont":"Liberation Serif","labelFontSize":18,"titleFont":"Liberation Serif","titleFontSize":16.5,"titleFontWeight":"normal"}},
"y":{"field":"v","type":"quantitative","scale":{"domain":[0,1],"nice":false},"axis":{"values":[0,0.25,0.5,0.75,1],"title":null,"format":".2~f","labelPadding":11,"labelFont":"Liberation Serif","labelFontSize":18}}
},
"layer":[
{"data":{"name":"collapse"},"mark":{"type":"line","interpolate":"monotone","color":"black","strokeWidth":1,"opacity":0.5},"encoding":{"detail":{"field":"s","type":"nominal"}}},
{"data":{"name":"bundle"},"mark":{"type":"line","interpolate":"monotone","color":"black","strokeWidth":1.7,"opacity":0.85},"encoding":{"detail":{"field":"s","type":"nominal"}}},
{"data":{"name":"blue"},"mark":{"type":"line","interpolate":"monotone","color":"#1010ee","strokeWidth":2}},
{"data":{"values":[{"t":822,"v":-0.012,"v2":0.39}]},"mark":{"type":"rule","color":"#1a1a8c","strokeWidth":1.5},"encoding":{"y2":{"field":"v2"}}},
{"data":{"values":[{"t":822,"v":0.394}]},"mark":{"type":"point","shape":"M0,-1L1.15,1L-1.15,1Z","filled":true,"color":"#1a1a8c","size":144,"opacity":1}},
{"data":{"values":[{"t":914,"v":0.544}]},"mark":{"type":"point","shape":"M-0.646,0A0.646,1 0 1,0 0.646,0A0.646,1 0 1,0 -0.646,0Z","filled":false,"color":"#2e9a62","strokeWidth":4,"size":16900,"opacity":1}},
{"data":{"values":[{"t":622,"v":0.106}]},"mark":{"type":"point","shape":"M-0.594,0A0.594,1 0 1,0 0.594,0A0.594,1 0 1,0 -0.594,0Z","filled":false,"color":"#ff0000","strokeWidth":5,"size":19044,"opacity":1}},
{"data":{"values":[{"t":914,"v":0.553,"label":"1"}]},"mark":{"type":"text","font":"Liberation Serif","fontSize":46,"color":"#2e9a62","baseline":"middle","align":"center"},"encoding":{"text":{"field":"label"}}},
{"data":{"values":[{"t":622,"v":0.118,"label":"2"}]},"mark":{"type":"text","font":"Liberation Serif","fontSize":46,"color":"#ff0000","baseline":"middle","align":"center"},"encoding":{"text":{"field":"label"}}}
]
}
